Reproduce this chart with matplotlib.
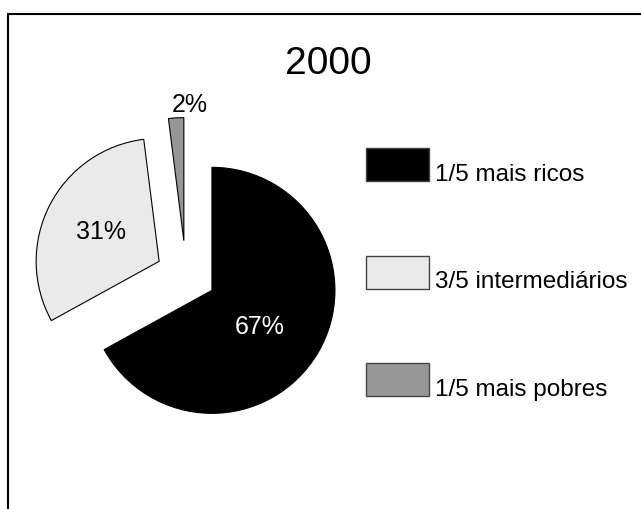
import matplotlib.pyplot as plt
from matplotlib.patches import Rectangle
import numpy as np

year = "2000"
groups = ["1/5 mais ricos", "3/5 intermediários", "1/5 mais pobres"]
shares = [67, 31, 2]
colors = ["#000000", "#eaeaea", "#969696"]
pct_colors = ["white", "black", "black"]
explode = [0.245, 0.245, 0.28]
pct_dist = [0.49, 0.53, 1.10]   # label distance from each wedge's tip, in radii
pct_turn = [-7, 0, -6]          # label angle tweak from wedge middle, degrees

plt.rcParams['font.family'] = ['Liberation Sans', 'DejaVu Sans']

W, H = 641, 509
R = 123.0              # pie radius in px
cx, cy = 186.0, 275.0  # pie centre in px (y from top)

fig = plt.figure(figsize=(W / 100, H / 100), dpi=100)
ax = fig.add_axes([0, 0, 1, 1])

wedges, _ = ax.pie(shares, colors=colors, explode=explode, startangle=90,
                   counterclock=False,
                   wedgeprops=dict(edgecolor='black', linewidth=0.8))
ax.set_xlim(-cx / R, (W - cx) / R)
ax.set_ylim(-(H - cy) / R, cy / R)
ax.axis('off')

for w, s, d, t, c in zip(wedges, shares, pct_dist, pct_turn, pct_colors):
    ang = np.deg2rad((w.theta1 + w.theta2) / 2 + t)
    x0, y0 = w.center
    ax.text(x0 + d * np.cos(ang), y0 + d * np.sin(ang), f"{s}%",
            ha='center', va='center', fontsize=18, color=c)

fig.text(328 / W, 1 - 64 / H, year, fontsize=28, ha='center', va='center')

# legend drawn by hand: box 63x33 px, text baseline on box bottom
for i, (g, c) in enumerate(zip(groups, colors)):
    top = 148 + 107.5 * i
    fig.add_artist(Rectangle((366 / W, 1 - (top + 33) / H), 63 / W, 33 / H,
                             transform=fig.transFigure, facecolor=c,
                             edgecolor='#444444', lw=1))
    fig.text(435 / W, 1 - (top + 33) / H, g, fontsize=17.5,
             ha='left', va='baseline')

# outer frame, cut off at right and bottom
fig.add_artist(Rectangle((8 / W, -0.1), 1.1, 1 - 14 / H + 0.1,
                         transform=fig.transFigure, fill=False,
                         edgecolor='black', lw=1.5))

fig.savefig("out.png", dpi=100)
